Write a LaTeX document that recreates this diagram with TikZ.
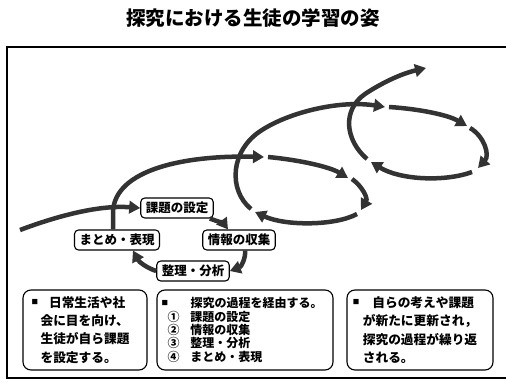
\documentclass[tikz,border=0pt]{standalone}
\usepackage{fontspec}
\setmainfont{Noto Sans CJK JP}
\usetikzlibrary{arrows.meta}
\newcommand\sqmark{\raisebox{2.5pt}{\fontsize{6.5}{6.5}\selectfont ■}}

\begin{document}
\begin{tikzpicture}[x=1pt,y=-1pt,>={Triangle[length=11pt,width=12.5pt]},
  flow/.style={draw=black!80,line width=4.5pt,->},
  stage/.style={draw,line width=1.1pt,rounded corners=4pt,fill=white,inner xsep=5pt,inner ysep=0pt,
    minimum height=20pt,font=\bfseries\fontsize{12.5}{12.5}\selectfont},
  note/.style={draw,line width=1.1pt,rounded corners=8pt,minimum height=80pt,align=left,
    font=\bfseries\fontsize{12.7}{18.3}\selectfont}]
\useasboundingbox (0,0) rectangle (506,385);

\node[font=\bfseries\fontsize{19.5}{19.5}\selectfont] (title) at (253,18) {探究における生徒の学習の姿};
\draw[line width=1.2pt] (515,47) -| (7,378) -- (515,378);

% the first cycle
\node[stage] (kadai) at (177,208) {課題の設定};
\node[stage] (joho) at (239,240) {情報の収集};
\node[stage] (seiri) at (193,271) {整理・分析};
\node[stage] (matome) at (117,240) {まとめ・表現};

\coordinate (start) at (20,230);
\coordinate (r2a) at (264,157);
\coordinate (r2b) at (268,157);
\coordinate (r2c) at (348,178);
\coordinate (r2d) at (352,179);
\coordinate (r2e) at (361,210);
\coordinate (r2f) at (357,214);
\coordinate (r2g) at (255,212);
\coordinate (r2h) at (251,209);
\coordinate (r2i) at (262,130);
\coordinate (r3a) at (385,107);
\coordinate (r3b) at (389,107);
\coordinate (r3c) at (467,126);
\coordinate (r3d) at (470,128);
\coordinate (r3e) at (478,168);
\coordinate (r3f) at (472,172);
\coordinate (r3g) at (371,162);
\coordinate (r3h) at (367,159);
\coordinate (r3i) at (365,94);
\coordinate (end) at (426,68);

\draw[flow] (start) .. controls (60,215) and (100,205) .. (kadai.west);
\draw[flow] ([xshift=-4pt]kadai.south east) .. controls (217,221) and (224,224) .. ([xshift=-11pt]joho.north);
\draw[flow] ([xshift=6pt]joho.south) .. controls (246,258) and (241,267) .. (seiri.east);
\draw[flow] (seiri.west) .. controls (147,268) and (139,262) .. ([xshift=16pt]matome.south);
\draw[flow] ([xshift=-4pt]matome.north) -- ++(0,-18) .. controls +(2,-42) and (185,155) .. (r2a);

% the second and third rings
\draw[flow] (r2b) .. controls (300,160) and (330,167) .. (r2c);
\draw[flow] (r2d) .. controls (362,186) and (368,198) .. (r2e);
\draw[flow] (r2f) .. controls (335,226) and (285,226) .. (r2g);
\draw[flow] (r2h) .. controls (228,190) and (230,150) .. (r2i) .. controls (290,112) and (340,100) .. (r3a);
\draw[flow] (r3b) .. controls (420,109) and (448,115) .. (r3c);
\draw[flow] (r3d) .. controls (484,136) and (490,155) .. (r3e);
\draw[flow] (r3f) .. controls (445,182) and (400,180) .. (r3g);
\draw[flow] (r3h) .. controls (345,140) and (342,110) .. (r3i) .. controls (380,84) and (400,74) .. (end);

\node[note,minimum width=124pt] (aim) at (85,330)
  {\hspace*{-9pt}\sqmark\hspace{11pt}日常生活や社\\会に目を向け、\\生徒が自ら課題\\を設定する。};
\node[note,minimum width=176pt,font=\bfseries\fontsize{12}{13.3}\selectfont] (steps) at (245,330)
  {\makebox[23pt][l]{\hspace{-6pt}\sqmark}探究の過程を経由する。\\
   \makebox[23pt][l]{①}課題の設定\\
   \makebox[23pt][l]{②}情報の収集\\
   \makebox[23pt][l]{③}整理・分析\\
   \makebox[23pt][l]{④}まとめ・表現};
\node[note,minimum width=146pt] (renew) at (420,330)
  {\hspace*{-10pt}\sqmark\hspace{13pt}自らの考えや課題\\が新たに更新され，\\探究の過程が繰り返\\される。};
\end{tikzpicture}
\end{document}
